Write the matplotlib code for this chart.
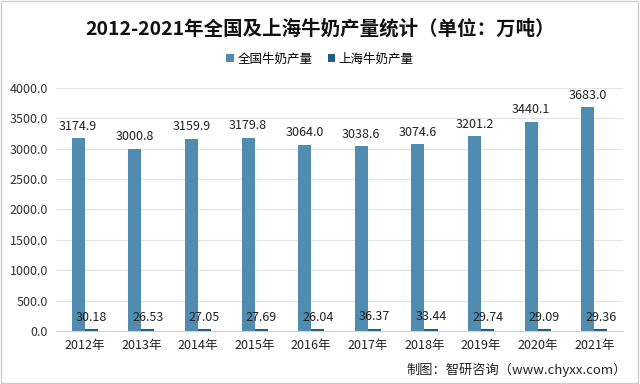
import matplotlib
matplotlib.use("Agg")
import matplotlib.pyplot as plt
import numpy as np
from matplotlib.patches import Rectangle

plt.rcParams['font.family'] = ['Noto Sans CJK SC', 'DejaVu Sans']

years = ['2012年', '2013年', '2014年', '2015年', '2016年', '2017年', '2018年', '2019年', '2020年', '2021年']
national = [3174.9, 3000.8, 3159.9, 3179.8, 3064.0, 3038.6, 3074.6, 3201.2, 3440.1, 3683.0]
shanghai = [30.18, 26.53, 27.05, 27.69, 26.04, 36.37, 33.44, 29.74, 29.09, 29.36]
series_names = ['全国牛奶产量', '上海牛奶产量']
yticks = [0, 500, 1000, 1500, 2000, 2500, 3000, 3500, 4000]

c_nat = '#4F8CAF'
c_sh = '#1F5C86'

fig = plt.figure(figsize=(6.4, 3.84), dpi=100)
ax = fig.add_axes([0.088, 0.138, 0.885, 0.633])

x = np.arange(len(years))
w = 0.23
b1 = ax.bar(x - w / 2, national, width=w, color=c_nat, label=series_names[0])
b2 = ax.bar(x + w / 2, shanghai, width=w, color=c_sh, label=series_names[1])

for xi, v in zip(x, national):
    ax.annotate(f'{v:.1f}', (xi - w / 2, v), xytext=(0, 4), textcoords='offset points',
                ha='center', va='bottom', fontsize=9, color='#222222')
for xi, v in zip(x, shanghai):
    ax.annotate(f'{v:.2f}', (xi + w / 2, v), xytext=(0, 4), textcoords='offset points',
                ha='center', va='bottom', fontsize=9, color='#222222')

ax.set_xlim(-0.5, len(years) - 0.5)
ax.set_ylim(0, 4000)
ax.set_yticks(yticks)
ax.set_yticklabels([f'{t:.1f}' for t in yticks], fontsize=9, color='#333333')
ax.set_xticks(x)
ax.set_xticklabels(years, fontsize=9, color='#222222')
ax.tick_params(axis='both', length=0, pad=6)
ax.grid(axis='y', color='#E3E3E3', linewidth=0.8)
ax.set_axisbelow(True)
for s in ['top', 'right', 'left']:
    ax.spines[s].set_visible(False)
ax.spines['bottom'].set_color('#D0D0D0')

fig.text(0.5, 0.925, '2012-2021年全国及上海牛奶产量统计（单位：万吨）', ha='center', va='center',
         fontsize=14, fontweight='bold', color='#111111')
fig.legend(handles=[b1, b2], loc='center', bbox_to_anchor=(0.5, 0.846), ncol=2, frameon=False,
           fontsize=9, handlelength=0.6, handleheight=0.6, handletextpad=0.3, columnspacing=1.2)

fig.text(0.98, 0.038, '制图：智研咨询（www.chyxx.com）', ha='right', va='center', fontsize=9.5, color='#222222')

fig.patches.append(Rectangle((0.002, 0.003), 0.995, 0.994, transform=fig.transFigure, fill=False,
                             edgecolor='#CCCCCC', linewidth=1))

fig.savefig('out.png', dpi=100, facecolor='white')
